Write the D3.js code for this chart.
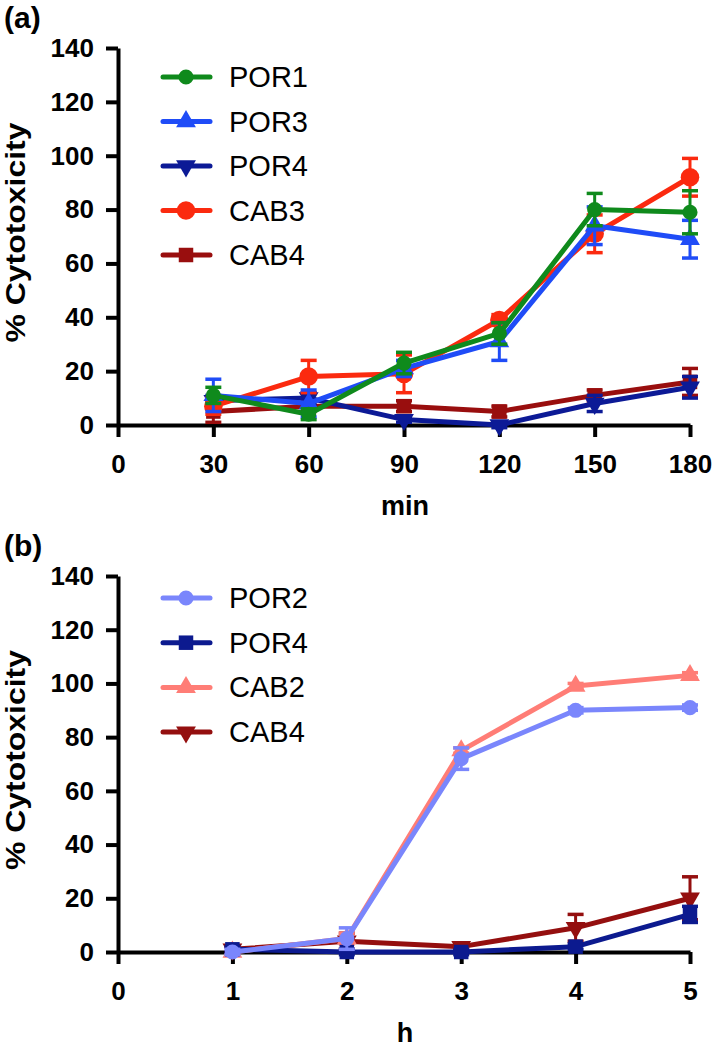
<!DOCTYPE html>
<html>
<head>
<meta charset="utf-8">
<script src="https://cdn.jsdelivr.net/npm/d3@7"></script>
<style>
  body { margin: 0; background: #fff; }
  svg { display: block; font-family: "Liberation Sans", Arial, sans-serif; }
</style>
</head>
<body>
<svg width="712" height="1050"></svg>
<script>
// panel (a) data: time in min
const minTicks = [0, 30, 60, 90, 120, 150, 180];
const minutes = [30, 60, 90, 120, 150, 180];
const por1A = [11, 4, 23, 34, 80, 79];
const por1AErr = [3, 2, 4, 4, 6, 8];
const por3A = [11, 8, 21, 31, 74, 69];
const por3AErr = [6, 5, 3, 7, 7, 7];
const por4A = [9, 10, 2, 0, 8, 14];
const por4AErr = [2, 2, 1, 1, 3, 4];
const cab3A = [7, 18, 19, 39, 71, 92];
const cab3AErr = [3, 6, 7, 2, 7, 7];
const cab4A = [5, 7, 7, 5, 11, 16];
const cab4AErr = [4, 2, 2, 2, 2, 5];

// panel (b) data: time in h
const hourTicks = [0, 1, 2, 3, 4, 5];
const hours = [1, 2, 3, 4, 5];
const por2B = [0, 5, 72, 90, 91];
const por2BErr = [1, 4, 4, 1, 1];
const por4B = [1, 0, 0, 2, 14];
const por4BErr = [1, 1, 1, 1, 3];
const cab2B = [0, 5, 75, 99, 103];
const cab2BErr = [0, 2, 1, 1, 1];
const cab4B = [1, 4, 2, 9, 20];
const cab4BErr = [1, 3, 1, 5, 8];

const yTicks = [0, 20, 40, 60, 80, 100, 120, 140];

const svg = d3.select("svg");

// marker shapes
const shapes = {
    circle: { type: d3.symbolCircle, size: 180, rot: 0 },
    bigcircle: { type: d3.symbolCircle, size: 270, rot: 0 },
    up: { type: d3.symbolTriangle, size: 170, rot: 0 },
    down: { type: d3.symbolTriangle, size: 170, rot: 180 },
    square: { type: d3.symbolSquare, size: 210, rot: 0 }
};

function drawPanel(cfg) {
    const x = d3.scaleLinear().domain(cfg.xDomain).range([118, 690]);
    const y = d3.scaleLinear().domain([0, 140]).range([cfg.bottom, cfg.top]);
    const g = svg.append("g");

    // panel letter
    g.append("text")
        .attr("x", 4).attr("y", cfg.top - 20)
        .style("font-size", "30px").style("font-weight", "bold")
        .text(cfg.letter);

    // y axis
    const yAxis = g.append("g")
        .attr("transform", "translate(118,0)")
        .call(d3.axisLeft(y).tickValues(yTicks).tickSize(12).tickSizeOuter(0).tickPadding(12));
    // x axis
    const xAxis = g.append("g")
        .attr("transform", `translate(0,${cfg.bottom})`)
        .call(d3.axisBottom(x).tickValues(cfg.xTicks).tickFormat(d3.format("d"))
            .tickSize(12).tickSizeOuter(0).tickPadding(18));

    [yAxis, xAxis].forEach(a => {
        a.select(".domain").attr("stroke-width", 4).attr("stroke", "#000");
        a.selectAll(".tick line").attr("stroke-width", 4).attr("stroke", "#000");
        a.selectAll(".tick text")
            .attr("fill", "#000")
            .style("font-size", "26px").style("font-weight", "bold")
            .style("font-family", "'Liberation Sans', Arial, sans-serif");
    });

    // axis titles
    g.append("text")
        .attr("transform", `translate(25,${(cfg.top + cfg.bottom) / 2 - 4}) rotate(-90)`)
        .attr("text-anchor", "middle")
        .attr("textLength", 220).attr("lengthAdjust", "spacingAndGlyphs")
        .style("font-size", "28px").style("font-weight", "bold")
        .text("% Cytotoxicity");
    g.append("text")
        .attr("x", 405).attr("y", cfg.bottom + 90)
        .attr("text-anchor", "middle")
        .style("font-size", "27px").style("font-weight", "bold")
        .text(cfg.xLabel);

    const line = d3.line().x(d => x(d.t)).y(d => y(d.v));

    // series in drawing order (last on top)
    cfg.series.forEach(s => {
        const pts = cfg.xs.map((t, i) => ({ t: t, v: s.values[i], e: s.errs[i] }));
        const sg = g.append("g");

        // error bars
        pts.filter(d => d.e > 0).forEach(d => {
            const cx = x(d.t), y1 = y(d.v + d.e), y2 = y(d.v - d.e);
            sg.append("line").attr("x1", cx).attr("x2", cx).attr("y1", y1).attr("y2", y2)
                .attr("stroke", s.color).attr("stroke-width", 3);
            [y1, y2].forEach(yy => {
                sg.append("line").attr("x1", cx - 8).attr("x2", cx + 8).attr("y1", yy).attr("y2", yy)
                    .attr("stroke", s.color).attr("stroke-width", 3.5);
            });
        });

        sg.append("path").datum(pts)
            .attr("d", line)
            .attr("fill", "none")
            .attr("stroke", s.color)
            .attr("stroke-width", 5)
            .attr("stroke-linejoin", "round");

        const sh = shapes[s.shape];
        sg.selectAll("path.mk").data(pts).enter().append("path")
            .attr("class", "mk")
            .attr("d", d3.symbol().type(sh.type).size(sh.size))
            .attr("transform", d => `translate(${x(d.t)},${y(d.v)}) rotate(${sh.rot})`)
            .attr("fill", s.color);
    });

    // legend
    cfg.legend.forEach((name, i) => {
        const s = cfg.series.find(d => d.name === name);
        const ly = cfg.legendTop + i * cfg.legendStep;
        g.append("line").attr("x1", 163).attr("x2", 210).attr("y1", ly).attr("y2", ly)
            .attr("stroke", s.color).attr("stroke-width", 5).attr("stroke-linecap", "round");
        const sh = shapes[s.shape];
        g.append("path")
            .attr("d", d3.symbol().type(sh.type).size(sh.size))
            .attr("transform", `translate(186,${ly}) rotate(${sh.rot})`)
            .attr("fill", s.color);
        g.append("text")
            .attr("x", 229).attr("y", ly + 10)
            .style("font-size", "29px")
            .text(name);
    });
}

drawPanel({
    letter: "(a)",
    top: 48, bottom: 425,
    xDomain: [0, 180], xTicks: minTicks, xs: minutes, xLabel: "min",
    legendTop: 77, legendStep: 44.5,
    legend: ["POR1", "POR3", "POR4", "CAB3", "CAB4"],
    series: [
        { name: "CAB4", values: cab4A, errs: cab4AErr, color: "#990e0e", shape: "square" },
        { name: "POR4", values: por4A, errs: por4AErr, color: "#0c1a96", shape: "down" },
        { name: "CAB3", values: cab3A, errs: cab3AErr, color: "#fb2a0f", shape: "bigcircle" },
        { name: "POR3", values: por3A, errs: por3AErr, color: "#1f4cf7", shape: "up" },
        { name: "POR1", values: por1A, errs: por1AErr, color: "#0f8a1c", shape: "circle" }
    ]
});

drawPanel({
    letter: "(b)",
    top: 576, bottom: 952,
    xDomain: [0, 5], xTicks: hourTicks, xs: hours, xLabel: "h",
    legendTop: 598, legendStep: 44.7,
    legend: ["POR2", "POR4", "CAB2", "CAB4"],
    series: [
        { name: "CAB4", values: cab4B, errs: cab4BErr, color: "#940f0f", shape: "down" },
        { name: "CAB2", values: cab2B, errs: cab2BErr, color: "#ff7d76", shape: "up" },
        { name: "POR4", values: por4B, errs: por4BErr, color: "#0c1a8f", shape: "square" },
        { name: "POR2", values: por2B, errs: por2BErr, color: "#7a86fc", shape: "circle" }
    ]
});
</script>
</body>
</html>
